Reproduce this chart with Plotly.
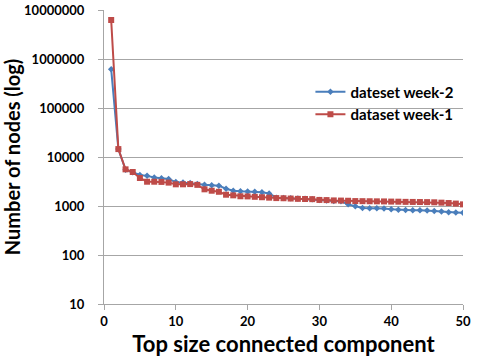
import plotly.graph_objects as go

rank = list(range(1, 51))

week2 = [620000, 14500, 5500, 4900, 4290, 4120, 3800, 3700, 3550, 3080,
         3000, 2950, 2800, 2700, 2650, 2600, 2250, 2050, 2000, 1980,
         1950, 1900, 1800, 1480, 1460, 1440, 1420, 1400, 1380, 1330,
         1300, 1270, 1250, 1080, 990, 910, 900, 900, 890, 860,
         840, 830, 820, 815, 810, 790, 770, 745, 740, 730]

week1 = [6250000, 14500, 5600, 4940, 3730, 3130, 3130, 3100, 3000, 2770,
         2770, 2800, 2700, 2190, 2050, 1950, 1700, 1650, 1580, 1570,
         1540, 1510, 1480, 1450, 1440, 1420, 1400, 1390, 1380, 1330,
         1320, 1300, 1290, 1280, 1260, 1255, 1250, 1245, 1240, 1230,
         1225, 1215, 1210, 1205, 1200, 1190, 1170, 1150, 1120, 1080]

font = "Lato"
grid = "#a6a6a6"

fig = go.Figure()
fig.add_trace(go.Scatter(
    x=rank, y=week2, name="dateset week-2", mode="lines+markers",
    line=dict(color="#4a7ebb", width=2),
    marker=dict(symbol="diamond", size=5, color="#4a7ebb")))
fig.add_trace(go.Scatter(
    x=rank, y=week1, name="dataset week-1", mode="lines+markers",
    line=dict(color="#be4b48", width=2),
    marker=dict(symbol="square", size=6, color="#be4b48")))

fig.update_layout(
    width=485, height=364,
    margin=dict(l=104, r=22, t=10, b=60, autoexpand=False),
    paper_bgcolor="white", plot_bgcolor="white",
    font=dict(family=font, size=13, color="black"),
    legend=dict(x=0.575, y=0.777, xanchor="left", yanchor="top",
                bgcolor="rgba(0,0,0,0)", tracegroupgap=0,
                font=dict(family=font, size=15, color="black", weight="bold")),
)
fig.update_xaxes(
    range=[0, 50], tickvals=[0, 10, 20, 30, 40, 50],
    showgrid=False, showline=True, linecolor=grid, linewidth=1,
    ticks="outside", ticklen=5, tickcolor=grid,
    tickfont=dict(family=font, size=13, weight="bold"),
    title=dict(text="Top size connected component",
               font=dict(family=font, size=22, weight="bold"), standoff=9),
    zeroline=False)
fig.update_yaxes(
    type="log", range=[1, 7],
    tickvals=[10, 100, 1000, 10000, 100000, 1000000, 10000000],
    ticktext=["10", "100", "1000", "10000", "100000", "1000000", "10000000"],
    showgrid=True, gridcolor=grid, gridwidth=1,
    showline=True, linecolor=grid, linewidth=1,
    ticks="outside", ticklen=5, tickcolor=grid, ticklabelstandoff=11,
    tickfont=dict(family=font, size=13, weight="bold"),
    title=dict(text="Number of nodes (log)",
               font=dict(family=font, size=20, weight="bold"), standoff=6),
    zeroline=False)

# the page body has a default 8px margin; drop it so the figure sits at 0,0
fig.write_html("out.html", config={"displayModeBar": False},
               post_script="document.body.style.margin='0px';")
